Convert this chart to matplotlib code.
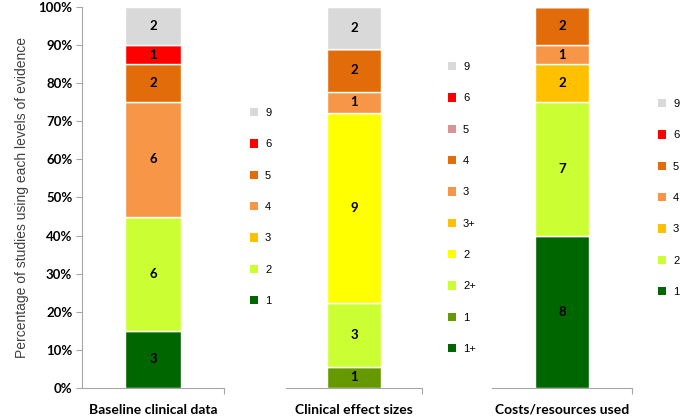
import matplotlib
matplotlib.use("Agg")
import matplotlib.pyplot as plt

# evidence levels and number of studies per level, one list per panel
base_levels = ['1', '2', '3', '4', '5', '6', '9']
base_counts = [3, 6, 0, 6, 2, 1, 2]
base_colors = ['#006600', '#CCFF33', '#FFC000', '#F79646', '#E36C0A', '#FF0000', '#D9D9D9']

eff_levels = ['1+', '1', '2+', '2', '3+', '3', '4', '5', '6', '9']
eff_counts = [0, 1, 3, 9, 0, 1, 2, 0, 0, 2]
eff_colors = ['#006600', '#669900', '#CCFF33', '#FFFF00', '#FFC000', '#F79646',
              '#E36C0A', '#D99594', '#FF0000', '#D9D9D9']

cost_levels = ['1', '2', '3', '4', '5', '6', '9']
cost_counts = [8, 7, 2, 1, 2, 0, 0]
cost_colors = base_colors

categories = ['Baseline clinical data', 'Clinical effect sizes', 'Costs/resources used']

panels = [(base_levels, base_counts, base_colors),
          (eff_levels, eff_counts, eff_colors),
          (cost_levels, cost_counts, cost_colors)]

# layout in pixels: axes (left, width) and legend anchors (left, centre y)
ax_pos = [(82, 142), (286, 136), (492, 140)]
leg_pos = [(250, 207), (448, 208), (658, 198)]

W, H = 680, 418
fig = plt.figure(figsize=(W / 100, H / 100), dpi=100)
axis_grey = '#A6A6A6'

for i, ((levels, counts, colors), cat) in enumerate(zip(panels, categories)):
    x0, w = ax_pos[i]
    ax = fig.add_axes([x0 / W, 1 - 388 / H, w / W, 381 / H])
    total = sum(counts)
    bottom = 0.0
    handles = []
    for lev, c, col in zip(levels, counts, colors):
        pct = 100.0 * c / total
        b = ax.bar(0, pct, width=0.39, bottom=bottom, color=col,
                   edgecolor='white', linewidth=1.0, label=lev)
        handles.append(b)
        if c > 0:
            ax.text(0, bottom + pct / 2, str(c), ha='center', va='center',
                    fontsize=9.5, fontweight='bold', family='Lato', color='black')
        bottom += pct
    ax.set_xlim(-0.5, 0.5)
    ax.set_ylim(0, 100)
    for s in ['top', 'right']:
        ax.spines[s].set_visible(False)
    ax.spines['bottom'].set_color(axis_grey)
    ax.spines['left'].set_color(axis_grey)
    ax.set_xticks([0.5])
    ax.set_xticklabels([''])
    ax.tick_params(axis='x', direction='out', length=4, color=axis_grey)
    ax.set_xlabel(cat, fontsize=10, fontweight='bold', family='Lato', labelpad=4)
    if i == 0:
        ax.set_yticks(range(0, 101, 10))
        ax.set_yticklabels([f'{v}%' for v in range(0, 101, 10)],
                           fontsize=9.5, fontweight='bold', family='Lato')
        ax.tick_params(axis='y', direction='out', length=4, color=axis_grey, pad=3)
        ax.set_ylabel('Percentage of studies using each levels of evidence',
                      fontsize=10, family='Liberation Sans', color='#404040', labelpad=7)
    else:
        ax.spines['left'].set_visible(False)
        ax.set_yticks([])
    lx, ly = leg_pos[i]
    leg = ax.legend(handles=handles[::-1], labels=levels[::-1], loc='center left',
                    bbox_to_anchor=(lx / W, 1 - ly / H), bbox_transform=fig.transFigure,
                    frameon=False, borderaxespad=0, borderpad=0,
                    prop={'family': 'Liberation Sans', 'size': 8},
                    handlelength=0.75, handleheight=0.75, handletextpad=0.6,
                    labelspacing=1.92)
    for p in leg.get_patches():
        p.set_linewidth(0)

fig.savefig('out.png', dpi=100)
